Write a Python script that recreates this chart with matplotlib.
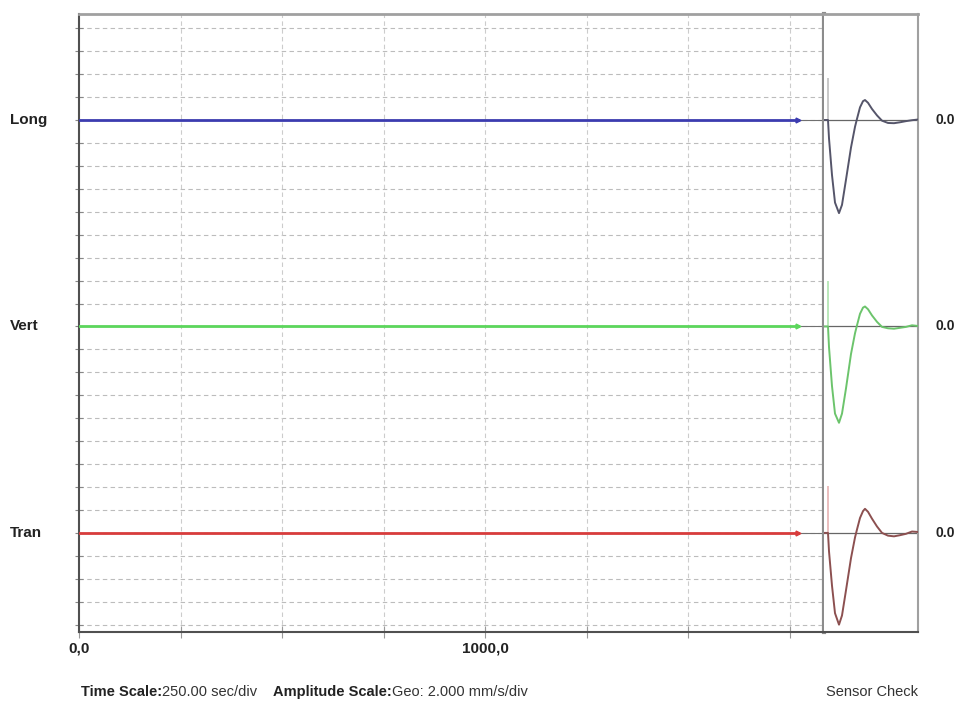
import matplotlib
matplotlib.use('Agg')
import matplotlib.pyplot as plt
import matplotlib.transforms as mtransforms

plt.rcParams['font.family'] = ['Liberation Sans', 'DejaVu Sans']

# channels, offsets in divisions (Geo: 2.000 mm/s/div)
channels = ['Long', 'Vert', 'Tran']
offsets = [18, 9, 0]
trace_colors = ['#3c3cb0', '#5cd65c', '#d83c3c']
wave_colors = ['#55556a', '#6cc46c', '#8c5050']
spike_colors = ['#c4c4c4', '#b4e6b4', '#e8b8b8']

# time axis (sec), 250 sec/div
record_end = 1770
time_ticks = [0, 250, 500, 750, 1000, 1250, 1500, 1750]
time_labels = ['0,0', '', '', '', '1000,0', '', '', '']

# sensor check waveforms (ms, divisions)
check_t = [0, 4, 5, 8, 11, 15, 18, 22, 27, 31, 33, 36, 39, 41, 44, 48, 53, 58,
           64, 70, 76, 82, 88, 94]
long_wave = [0, 0, -0.8, -2.4, -3.6, -4.06, -3.7, -2.6, -1.2, -0.3, 0.05, 0.55,
             0.82, 0.87, 0.75, 0.48, 0.2, -0.03, -0.13, -0.14, -0.1, -0.05, -0.01, 0.02]
vert_wave = [0, 0, -0.9, -2.6, -3.8, -4.2, -3.8, -2.7, -1.2, -0.3, 0.05, 0.55,
             0.82, 0.87, 0.75, 0.48, 0.2, -0.02, -0.08, -0.1, -0.06, -0.02, 0.05, 0.02]
tran_wave = [0, 0, -0.8, -2.3, -3.5, -4.0, -3.6, -2.5, -1.1, -0.2, 0.15, 0.65,
             0.95, 1.05, 0.92, 0.62, 0.28, 0.0, -0.12, -0.15, -0.1, -0.04, 0.06, 0.04]
waves = [long_wave, vert_wave, tran_wave]
spike_t = 4
spike_heights = [1.83, 2.0, 2.05]

# footer pieces: (text, bold)
footer_left = [('Time Scale:', True), ('250.00 sec/div', False)]
footer_mid = [('Amplitude Scale:', True), ('Geo: 2.000 mm/s/div', False)]

W, H = 956, 702
fig = plt.figure(figsize=(W / 100, H / 100), dpi=100)
ax = fig.add_axes([79 / W, 1 - 632 / H, (824 - 79) / W, (632 - 14) / H])
ax2 = fig.add_axes([824 / W, 1 - 632 / H, (918 - 824) / W, (632 - 14) / H])

ylim = (-4.32, 22.62)

# main record
ax.set_xlim(0, 1834)
ax.set_ylim(*ylim)
for y in range(-4, 23):
    ax.axhline(y, color='#bcbcbc', lw=0.8, ls=(0, (4, 3)), zorder=1)
for x in time_ticks[1:]:
    ax.axvline(x, color='#cccccc', lw=0.8, ls=(0, (4, 3)), zorder=1)

for name, off, c in zip(channels, offsets, trace_colors):
    ax.axhline(off, color='#707070', lw=0.8, zorder=2)
    ax.plot([0, record_end], [off, off], color=c, lw=2, zorder=3)
    ax.plot(record_end, off, marker='>', ms=3.5, color=c, zorder=3)

tr = mtransforms.blended_transform_factory(fig.transFigure, ax.transData)
for name, off in zip(channels, offsets):
    ax.text(10 / W, off, name, transform=tr, ha='left', va='center',
            fontsize=11, fontweight='bold', color='#222222')

ax.set_xticks(time_ticks)
ax.set_xticklabels(time_labels, fontsize=11, fontweight='bold', color='#222222')
ax.set_yticks(range(-4, 23))
ax.set_yticklabels([])
ax.tick_params(axis='x', direction='inout', length=9, color='#999999', width=0.8, pad=2)
ax.tick_params(axis='y', direction='inout', length=6, color='#888888', width=0.8)

ax.spines['right'].set_color('#8c8c8c')
ax.spines['right'].set_linewidth(3)
ax.spines['top'].set_color('#a0a0a0')
ax.spines['top'].set_linewidth(2)
ax.spines['left'].set_color('#505050')
ax.spines['left'].set_linewidth(1.5)
ax.spines['bottom'].set_color('#505050')
ax.spines['bottom'].set_linewidth(1.5)

# sensor check panel
ax2.set_xlim(0, 94)
ax2.set_ylim(*ylim)
ax2.set_xticks([])
ax2.set_yticks([])
ax2.spines['left'].set_visible(False)
ax2.spines['top'].set_color('#a0a0a0')
ax2.spines['top'].set_linewidth(2)
ax2.spines['right'].set_color('#a0a0a0')
ax2.spines['right'].set_linewidth(1.5)
ax2.spines['bottom'].set_color('#505050')
ax2.spines['bottom'].set_linewidth(1.5)

tr2 = mtransforms.blended_transform_factory(fig.transFigure, ax2.transData)
for off, wave, wc, sc, sh in zip(offsets, waves, wave_colors, spike_colors, spike_heights):
    ax2.axhline(off, color='#666666', lw=0.9, zorder=1)
    ax2.vlines(spike_t, off, off + sh, color=sc, lw=1.3, zorder=2)
    ax2.plot(check_t, [off + v for v in wave], color=wc, lw=1.4, zorder=3)
    ax2.text(935 / W, off, '0.0', transform=tr2, ha='left', va='center',
             fontsize=10, fontweight='bold', color='#222222')

# footer, pieces placed one after another
yb = 1 - 692 / H
renderer = fig.canvas.get_renderer()
for pieces, x0 in [(footer_left, 81), (footer_mid, 273)]:
    x = x0
    for txt, bold in pieces:
        t = fig.text(x / W, yb, txt, fontsize=10.5, va='center',
                     fontweight='bold' if bold else 'normal',
                     color='#222222' if bold else '#333333')
        x += t.get_window_extent(renderer).width
fig.text(918 / W, yb, 'Sensor Check', fontsize=10.5, ha='right', va='center', color='#333333')

fig.savefig('out.png', dpi=100)
